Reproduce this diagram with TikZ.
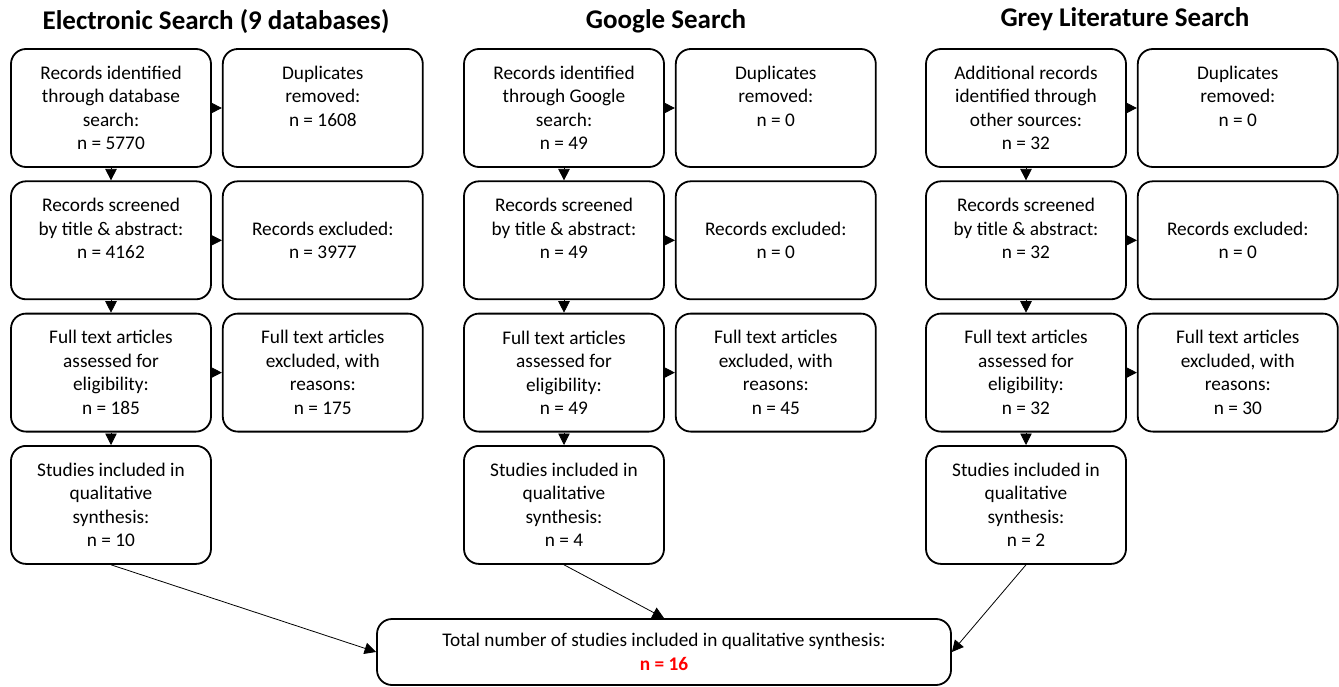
\documentclass[tikz,border=0pt]{standalone}
\usepackage{fontspec}
\setmainfont{Carlito}
\usepackage{xcolor}
\usetikzlibrary{arrows.meta, positioning}

\begin{document}
\begin{tikzpicture}[
  x=1pt, y=-1pt,
  box/.style={
    rectangle, rounded corners=15pt, draw=black, line width=1.8pt,
    minimum width=200pt, minimum height=118pt, inner sep=2pt,
    font=\fontsize{19.3}{23.5}\selectfont, align=center
  },
  total/.style={box, minimum width=574pt, minimum height=66pt},
  head/.style={font=\fontsize{27}{30}\selectfont\bfseries},
  arr/.style={-{Triangle[length=11.5pt, width=11.5pt]}, line width=0.8pt},
  node distance=12.5pt and 10pt,
]
  \useasboundingbox (0,0) rectangle (1339,687);

  % Headings
  \node[head] (hE) at (216,22) {Electronic Search (9 databases)};
  \node[head] (hG) at (666,21) {Google Search};
  \node[head] (hR) at (1125,19) {Grey Literature Search};

  % Electronic search
  \node[box] (e1) at (111,108) {Records identified\\through database\\search:\\n = 5770};
  \node[box, right=of e1] (e1x) {Duplicates\\removed:\\n = 1608\\\mbox{}};
  \node[box, below=of e1] (e2) {Records screened\\by title \& abstract:\\n = 4162\\\mbox{}};
  \node[box, right=of e2] (e2x) {Records excluded:\\n = 3977};
  \node[box, below=of e2] (e3) {Full text articles\\assessed for\\eligibility:\\n = 185};
  \node[box, right=of e3] (e3x) {Full text articles\\excluded, with\\reasons:\\n = 175};
  \node[box, below=of e3] (e4) {Studies included in\\qualitative\\synthesis:\\n = 10};

  % Google search
  \node[box] (g1) at (564,108) {Records identified\\through Google\\search:\\n = 49};
  \node[box, right=of g1] (g1x) {Duplicates\\removed:\\n = 0\\\mbox{}};
  \node[box, below=of g1] (g2) {Records screened\\by title \& abstract:\\n = 49\\\mbox{}};
  \node[box, right=of g2] (g2x) {Records excluded:\\n = 0};
  \node[box, below=of g2] (g3) {Full text articles\\assessed for\\eligibility:\\n = 49};
  \node[box, right=of g3] (g3x) {Full text articles\\excluded, with\\reasons:\\n = 45};
  \node[box, below=of g3] (g4) {Studies included in\\qualitative\\synthesis:\\n = 4};

  % Grey literature search
  \node[box] (r1) at (1026,108) {Additional records\\identified through\\other sources:\\n = 32};
  \node[box, right=of r1] (r1x) {Duplicates\\removed:\\n = 0\\\mbox{}};
  \node[box, below=of r1] (r2) {Records screened\\by title \& abstract:\\n = 32\\\mbox{}};
  \node[box, right=of r2] (r2x) {Records excluded:\\n = 0};
  \node[box, below=of r2] (r3) {Full text articles\\assessed for\\eligibility:\\n = 32};
  \node[box, right=of r3] (r3x) {Full text articles\\excluded, with\\reasons:\\n = 30};
  \node[box, below=of r3] (r4) {Studies included in\\qualitative\\synthesis:\\n = 2};

  % Total
  \node[total] (tot) at (664,652) {Total number of studies included in qualitative synthesis:\\{\color{red}\bfseries n = 16}};

  % Arrows
  \foreach \c in {e,g,r}{
    \draw[arr] (\c1) -- (\c1x);
    \draw[arr] (\c2) -- (\c2x);
    \draw[arr] (\c3) -- (\c3x);
    \draw[arr] (\c1) -- (\c2);
    \draw[arr] (\c2) -- (\c3);
    \draw[arr] (\c3) -- (\c4);
  }
  \draw[arr] (e4.south) -- (tot.west);
  \draw[arr] (g4.south) -- (tot.north);
  \draw[arr] (r4.south) -- (tot.east);
\end{tikzpicture}
\end{document}
